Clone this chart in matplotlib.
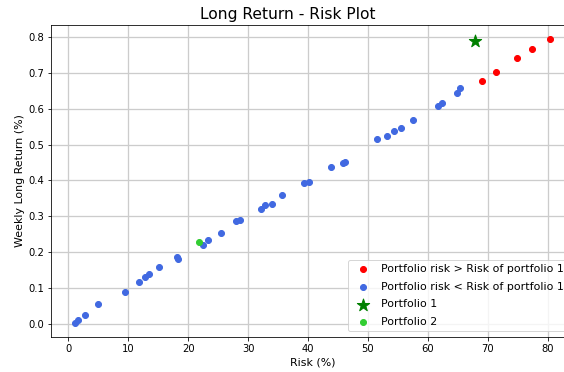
import matplotlib
matplotlib.use("Agg")
import matplotlib.pyplot as plt

# portfolios with lower risk than portfolio 1
blue_risk = [1.17, 1.55, 2.78, 5.0, 9.5, 11.8, 12.8, 13.55, 15.2, 18.17, 18.33,
             22.45, 23.28, 25.5, 28.0, 28.7, 32.17, 32.9, 34.05, 35.7, 39.33,
             40.2, 43.78, 45.8, 46.2, 51.55, 53.1, 54.33, 55.45, 57.55, 61.6,
             62.33, 64.9, 65.33]
blue_ret = [0.0036, 0.011, 0.025, 0.055, 0.090, 0.118, 0.132, 0.1385, 0.160,
            0.1868, 0.182, 0.220, 0.2333, 0.2528, 0.287, 0.290, 0.3197, 0.3317,
            0.3337, 0.3596, 0.392, 0.3967, 0.4368, 0.450, 0.451, 0.5148, 0.523,
            0.538, 0.547, 0.568, 0.6077, 0.617, 0.645, 0.657]

# portfolios with higher risk than portfolio 1
red_risk = [69.05, 71.33, 74.9, 77.4, 80.33]
red_ret = [0.677, 0.7015, 0.7415, 0.7674, 0.7936]

p1_risk, p1_ret = 67.83, 0.7897
p2_risk, p2_ret = 21.78, 0.2277

fig = plt.figure(figsize=(564 / 72, 372 / 72), dpi=72)
ax = fig.add_axes([0.0913, 0.0941, 0.9256, 0.8387])

ax.scatter(red_risk, red_ret, color='red', s=36, label='Portfolio risk > Risk of portfolio 1', zorder=3)
ax.scatter(blue_risk, blue_ret, color='royalblue', s=36, label='Portfolio risk < Risk of portfolio 1', zorder=3)
ax.scatter([p1_risk], [p1_ret], color='green', marker='*', s=170, label='Portfolio 1', zorder=4)
ax.scatter([p2_risk], [p2_ret], color='limegreen', s=36, label='Portfolio 2', zorder=4)

ax.grid(True, color='#cccccc', linewidth=1.3)
ax.set_axisbelow(True)
ax.tick_params(labelsize=10)
ax.set_xlabel('Risk (%)', fontsize=11)
ax.set_ylabel('Weekly Long Return (%)', fontsize=11)
ax.set_title('Long Return - Risk Plot', fontsize=15.5, x=0.453)
ax.legend(loc='lower right', fontsize=11, labelspacing=0.7, handletextpad=0.6)

fig.savefig('out.png', dpi=72)
